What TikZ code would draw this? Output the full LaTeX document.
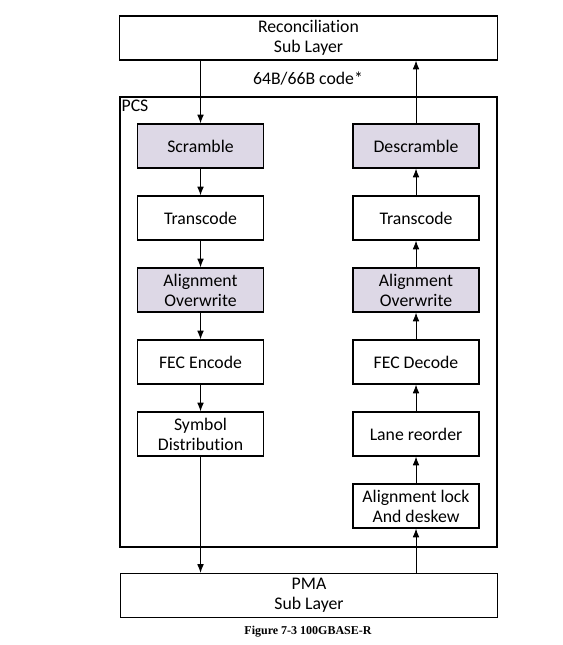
\documentclass[tikz,border=0pt]{standalone}
\usepackage{fontspec}
\setmainfont{Carlito}[Ligatures={NoCommon}]
\newfontfamily\capfont{Liberation Serif}
\usetikzlibrary{arrows.meta}

\definecolor{lav}{RGB}{221,216,230}

\begin{document}
\begin{tikzpicture}[
        x=0.75pt, y=-0.75pt,
        font=\fontsize{13.3}{15}\selectfont,
        block/.style={draw, line width=0.9pt, align=center, minimum width=94.5pt, minimum height=33pt, inner sep=0pt},
        shaded/.style={block, fill=lav},
        layer/.style={draw, line width=0.9pt, align=center, minimum width=283pt, minimum height=33pt, inner sep=0pt},
        flow/.style={-{Latex[length=6.5pt, width=5pt]}, line width=0.7pt}
    ]
        \useasboundingbox (0, 0) rectangle (563, 645);

        \node[layer] (rs)  at (308.5, 38)  {Reconciliation\\Sub Layer};
        \node[layer] (pma) at (309, 595.5) {PMA\\Sub Layer};

        \draw[line width=0.9pt] (120, 97) rectangle (497, 547);
        \node[anchor=north west, inner sep=1pt] (pcs) at (120, 98) {PCS};
        \node (code) at (308, 79) {64B/66B code*};

        % transmit side
        \node[shaded] (scr)  at (200.5, 146) {Scramble};
        \node[block]  (tx1)  at (200.5, 218) {Transcode};
        \node[shaded] (aw1)  at (200.5, 290) {Alignment\\Overwrite};
        \node[block]  (fece) at (200.5, 362) {FEC Encode};
        \node[block]  (sym)  at (200.5, 434) {Symbol\\Distribution};

        % receive side
        \node[shaded] (dscr) at (416, 146) {Descramble};
        \node[block]  (tx2)  at (416, 218) {Transcode};
        \node[shaded] (aw2)  at (416, 290) {Alignment\\Overwrite};
        \node[block]  (fecd) at (416, 362) {FEC Decode};
        \node[block]  (lane) at (416, 434) {Lane reorder};
        \node[block]  (alk)  at (416, 506) {Alignment lock\\And deskew};

        \draw[flow] (rs.south -| scr.north) -- (scr.north);
        \draw[flow] (scr) -- (tx1);
        \draw[flow] (tx1) -- (aw1);
        \draw[flow] (aw1) -- (fece);
        \draw[flow] (fece) -- (sym);
        \draw[flow] (sym.south) -- (pma.north -| sym.south);

        \draw[flow] (pma.north -| alk.south) -- (alk.south);
        \draw[flow] (alk) -- (lane);
        \draw[flow] (lane) -- (fecd);
        \draw[flow] (fecd) -- (aw2);
        \draw[flow] (aw2) -- (tx2);
        \draw[flow] (tx2) -- (dscr);
        \draw[flow] (dscr.north) -- (rs.south -| dscr.north);

        \node[font=\capfont\bfseries\fontsize{9}{10}\selectfont] (cap) at (308, 632) {Figure 7-3 100GBASE-R};
    \end{tikzpicture}
\end{document}
